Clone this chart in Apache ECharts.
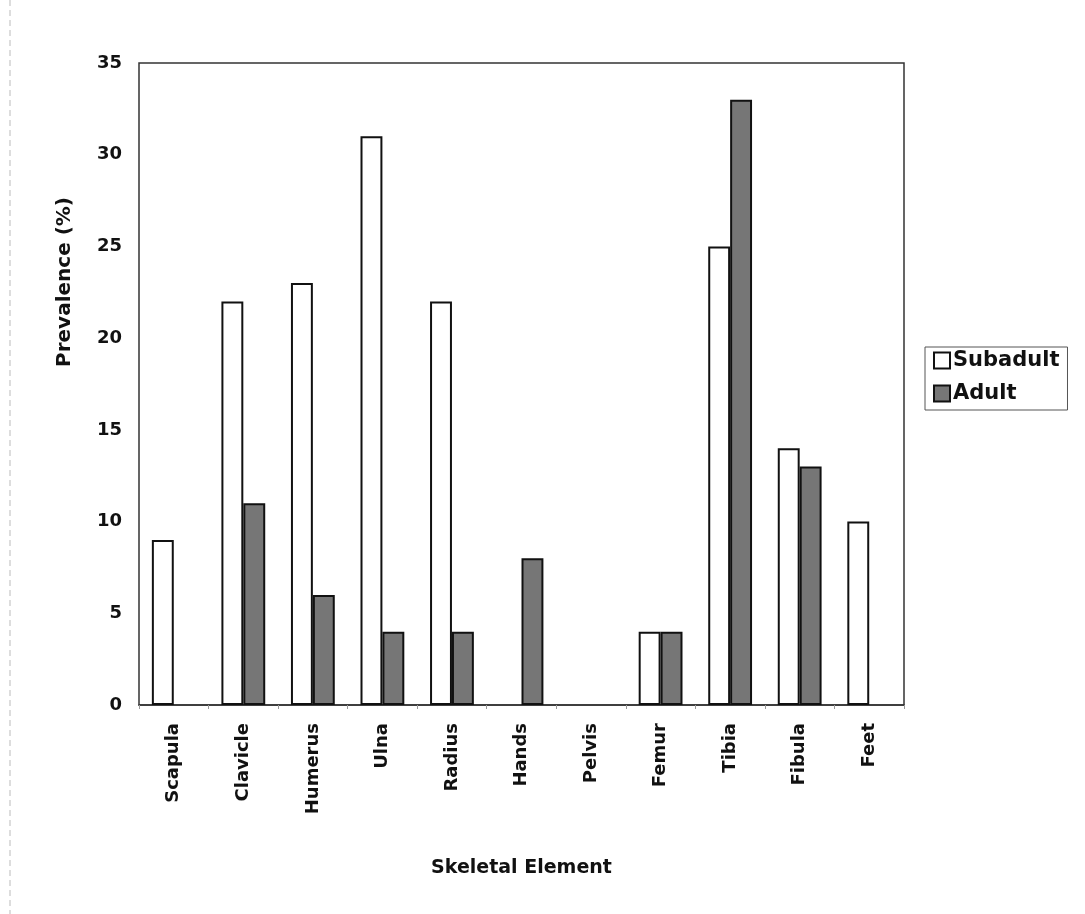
<!DOCTYPE html>
<html>
<head>
<meta charset="utf-8">
<script src="https://cdn.jsdelivr.net/npm/echarts@6/dist/echarts.min.js"></script>
<style>
  html, body { margin: 0; padding: 0; background: #fff; }
  #chart { width: 1085px; height: 914px; }
</style>
</head>
<body>
<div id="chart"></div>
<script>
// Skeletal elements and prevalence (%) per age group
const categories = ['Scapula', 'Clavicle', 'Humerus', 'Ulna', 'Radius', 'Hands', 'Pelvis', 'Femur', 'Tibia', 'Fibula', 'Feet'];
const subadult = [9, 22, 23, 31, 22, 0, 0, 4, 25, 14, 10];
const adult = [0, 11, 6, 4, 4, 8, 0, 4, 33, 13, 0];
const yTicks = [0, 5, 10, 15, 20, 25, 30, 35];

const FONT = 'DejaVu Sans';

// zero-height bars get no outline so nothing shows on the baseline
function barData(values) {
  return values.map(v => v === 0 ? { value: v, itemStyle: { borderWidth: 0 } } : v);
}

const chart = echarts.init(document.getElementById('chart'), null, { renderer: 'canvas' });

chart.setOption({
  backgroundColor: '#ffffff',
  animation: false,
  textStyle: { fontFamily: FONT, color: '#111' },
  grid: { left: 139, top: 63, right: 181, bottom: 209, show: true, borderColor: '#333', borderWidth: 1.5, backgroundColor: 'transparent' },
  legend: {
    orient: 'vertical',
    left: 925, top: 347,
    padding: [3, 8, 6, 8],
    itemGap: 12,
    itemWidth: 16, itemHeight: 16,
    icon: 'rect',
    borderColor: '#555', borderWidth: 1,
    textStyle: { fontFamily: FONT, fontSize: 21, fontWeight: 'bold', color: '#111', padding: [0, 0, 0, -2] },
    data: ['Subadult', 'Adult']
  },
  xAxis: {
    type: 'category',
    data: categories,
    name: 'Skeletal Element',
    nameLocation: 'middle',
    nameGap: 154,
    nameTextStyle: { fontFamily: FONT, fontSize: 19, fontWeight: 'bold', color: '#111' },
    axisLine: { show: true, lineStyle: { color: '#333', width: 1.5 } },
    axisTick: { show: true, alignWithLabel: false, length: 6, lineStyle: { color: '#999', type: 'dashed' } },
    axisLabel: { rotate: 90, margin: 18, fontFamily: FONT, fontSize: 18, fontWeight: 'bold', color: '#111', interval: 0 }
  },
  yAxis: {
    type: 'value',
    min: yTicks[0], max: yTicks[yTicks.length - 1], interval: 5,
    axisLine: { show: false },
    axisTick: { show: false },
    splitLine: { show: false },
    axisLabel: { margin: 17, fontFamily: FONT, fontSize: 18, fontWeight: 'bold', color: '#111' }
  },
  series: [
    {
      name: 'Subadult', type: 'bar', data: barData(subadult),
      barGap: '0%', barCategoryGap: '37%',
      itemStyle: { color: '#ffffff', borderColor: '#111', borderWidth: 2 }
    },
    {
      name: 'Adult', type: 'bar', data: barData(adult),
      itemStyle: { color: '#767676', borderColor: '#111', borderWidth: 2 }
    }
  ],
  graphic: [
    {
      type: 'text',
      x: 65, y: 282,
      rotation: Math.PI / 2,
      style: { text: 'Prevalence (%)', fontFamily: FONT, fontSize: 20, fontWeight: 'bold', fill: '#111', align: 'center', verticalAlign: 'middle' }
    },
    {
      type: 'line',
      shape: { x1: 10, y1: 0, x2: 10, y2: 914 },
      style: { stroke: '#bbb', lineWidth: 1, lineDash: [6, 4] }
    }
  ]
});
</script>
</body>
</html>
